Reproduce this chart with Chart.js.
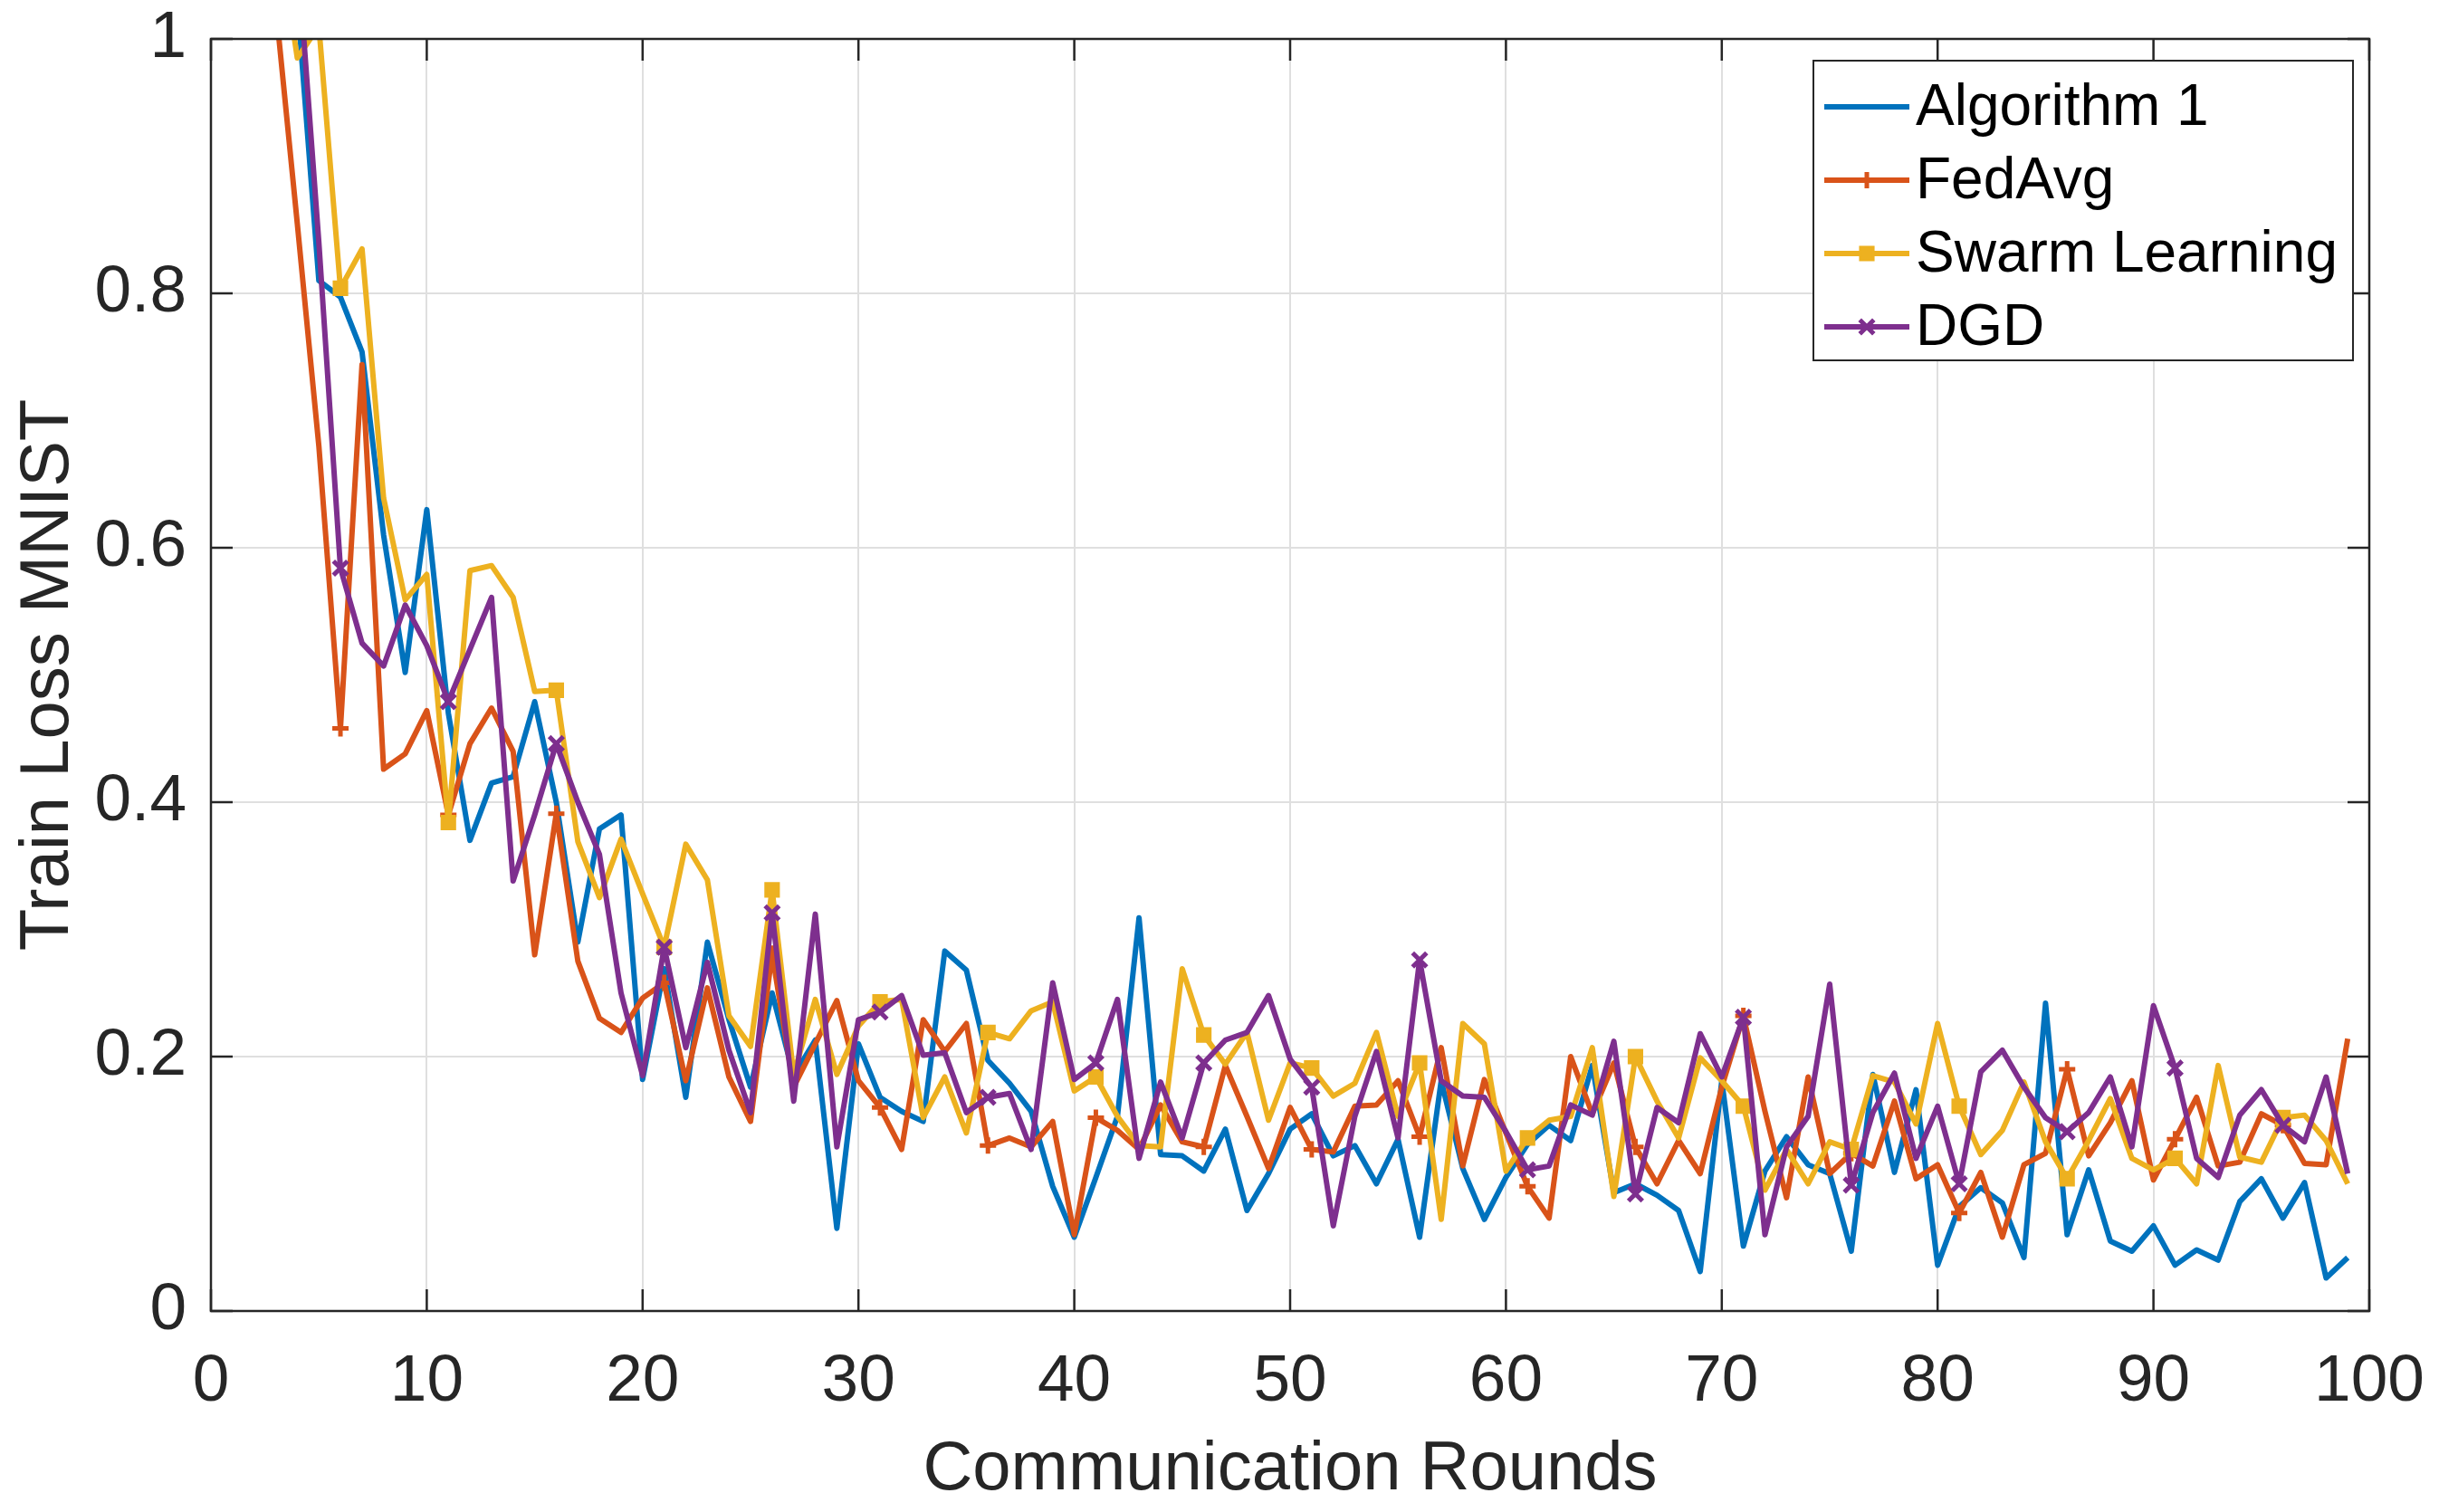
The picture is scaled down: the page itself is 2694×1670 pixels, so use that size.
<!DOCTYPE html>
<html>
<head>
<meta charset="utf-8">
<title>Train Loss MNIST</title>
<script src="https://cdn.jsdelivr.net/npm/chart.js@4.4.1/dist/chart.umd.min.js"></script>
<style>
  html, body { margin: 0; padding: 0; background: #fff; overflow: hidden; }
  #wrap { width: 2694px; height: 1670px; position: relative; }
  #wrap canvas { display: block; }
</style>
</head>
<body>
<div id="wrap"><canvas id="lossChart"></canvas></div>
<script>
// communication rounds (x) and the four loss curves
const rounds = [
  1, 2, 3, 4, 5, 6, 7, 8, 9, 10, 11, 12, 13, 14, 15, 16, 17, 18, 19, 20,
  21, 22, 23, 24, 25, 26, 27, 28, 29, 30, 31, 32, 33, 34, 35, 36, 37, 38, 39, 40,
  41, 42, 43, 44, 45, 46, 47, 48, 49, 50, 51, 52, 53, 54, 55, 56, 57, 58, 59, 60,
  61, 62, 63, 64, 65, 66, 67, 68, 69, 70, 71, 72, 73, 74, 75, 76, 77, 78, 79, 80,
  81, 82, 83, 84, 85, 86, 87, 88, 89, 90, 91, 92, 93, 94, 95, 96, 97, 98, 99
];

const algorithm1 = [
  1.6, 1.4, 1.2, 1.03, 0.81, 0.797, 0.754, 0.61, 0.502, 0.63,
  0.47, 0.37, 0.415, 0.42, 0.479, 0.40, 0.29, 0.379, 0.39, 0.182,
  0.269, 0.168, 0.29, 0.229, 0.176, 0.25, 0.185, 0.213, 0.065, 0.21,
  0.168, 0.157, 0.149, 0.283, 0.268, 0.197, 0.179, 0.157, 0.098, 0.058,
  0.105, 0.153, 0.309, 0.123, 0.122, 0.11, 0.143, 0.079, 0.108, 0.143,
  0.155, 0.122, 0.13, 0.1, 0.135, 0.058, 0.181, 0.112, 0.072, 0.105,
  0.131, 0.146, 0.134, 0.193, 0.093, 0.1, 0.091, 0.079, 0.031, 0.181,
  0.051, 0.11, 0.137, 0.115, 0.108, 0.047, 0.186, 0.109, 0.174, 0.036,
  0.082, 0.097, 0.085, 0.042, 0.242, 0.06, 0.111, 0.055, 0.047, 0.067,
  0.036, 0.048, 0.04, 0.086, 0.104, 0.073, 0.101, 0.026, 0.042
];

const fedAvg = [
  1.4, 1.2, 1.026, 0.855, 0.68, 0.458, 0.744, 0.426, 0.438, 0.472,
  0.39, 0.446, 0.474, 0.44, 0.28, 0.391, 0.275, 0.23, 0.219, 0.246,
  0.258, 0.181, 0.254, 0.184, 0.149, 0.281, 0.176, 0.21, 0.244, 0.181,
  0.16, 0.127, 0.229, 0.204, 0.226, 0.13, 0.136, 0.129, 0.149, 0.06,
  0.152, 0.142, 0.127, 0.162, 0.133, 0.129, 0.193, 0.153, 0.112, 0.16,
  0.127, 0.125, 0.161, 0.162, 0.181, 0.137, 0.207, 0.114, 0.182, 0.14,
  0.098, 0.073, 0.2, 0.155, 0.195, 0.129, 0.1, 0.134, 0.108, 0.176,
  0.232, 0.157, 0.089, 0.184, 0.108, 0.124, 0.114, 0.165, 0.104, 0.115,
  0.077, 0.109, 0.058, 0.115, 0.124, 0.19, 0.122, 0.148, 0.181, 0.103,
  0.135, 0.168, 0.114, 0.117, 0.155, 0.146, 0.116, 0.115, 0.214
];

const swarmLearning = [
  1.5, 1.3, 1.1, 0.985, 1.01, 0.804, 0.835, 0.639, 0.559, 0.579,
  0.384, 0.582, 0.586, 0.561, 0.487, 0.488, 0.369, 0.325, 0.371, 0.328,
  0.286, 0.367, 0.339, 0.232, 0.208, 0.331, 0.186, 0.245, 0.186, 0.224,
  0.243, 0.245, 0.152, 0.184, 0.14, 0.219, 0.214, 0.236, 0.243, 0.173,
  0.184, 0.153, 0.13, 0.129, 0.269, 0.217, 0.194, 0.219, 0.15, 0.195,
  0.191, 0.169, 0.179, 0.219, 0.153, 0.195, 0.072, 0.226, 0.21, 0.11,
  0.136, 0.15, 0.153, 0.207, 0.09, 0.2, 0.165, 0.136, 0.199, 0.181,
  0.161, 0.095, 0.127, 0.1, 0.133, 0.127, 0.185, 0.18, 0.147, 0.226,
  0.161, 0.123, 0.142, 0.18, 0.133, 0.104, 0.134, 0.167, 0.12, 0.111,
  0.12, 0.1, 0.193, 0.121, 0.117, 0.152, 0.154, 0.134, 0.1
];

const dgd = [
  1.6, 1.4, 1.25, 1.07, 0.84, 0.584, 0.525, 0.507, 0.555, 0.523,
  0.479, 0.52, 0.561, 0.338, 0.39, 0.446, 0.40, 0.359, 0.25, 0.185,
  0.286, 0.207, 0.274, 0.205, 0.156, 0.313, 0.165, 0.312, 0.129, 0.229,
  0.235, 0.248, 0.201, 0.203, 0.156, 0.168, 0.171, 0.127, 0.258, 0.182,
  0.195, 0.245, 0.12, 0.18, 0.136, 0.195, 0.213, 0.219, 0.248, 0.198,
  0.176, 0.067, 0.153, 0.204, 0.136, 0.276, 0.181, 0.169, 0.168, 0.141,
  0.111, 0.114, 0.162, 0.154, 0.212, 0.092, 0.16, 0.148, 0.218, 0.184,
  0.231, 0.06, 0.129, 0.153, 0.257, 0.099, 0.156, 0.187, 0.12, 0.161,
  0.1, 0.188, 0.205, 0.176, 0.152, 0.141, 0.156, 0.184, 0.129, 0.24,
  0.191, 0.12, 0.105, 0.154, 0.174, 0.146, 0.133, 0.184, 0.108
];

const seriesNames = ['Algorithm 1', 'FedAvg', 'Swarm Learning', 'DGD'];
const xTicks = [0, 10, 20, 30, 40, 50, 60, 70, 80, 90, 100];
const yTicks = [0, 0.2, 0.4, 0.6, 0.8, 1];
const xTitle = 'Communication Rounds';
const yTitle = 'Train Loss MNIST';

const FONT = "'Liberation Sans', Arial, Helvetica, sans-serif";
const AXIS_COLOR = '#262626';
const GRID_COLOR = '#dfdfdf';
const NO_COLOR = 'rgba(0,0,0,0)';

function toPoints(values) {
    return rounds.map((r, i) => ({ x: r, y: values[i] }));
}

// markers only on every fifth round, like the MATLAB MarkerIndices
function markerRadius(size) {
    return ctx => (rounds[ctx.dataIndex] % 5 === 1 ? size : 0);
}

// box with inward ticks on all four sides
const matlabFrame = {
    id: 'matlabFrame',
    afterDatasetsDraw(chart) {
        const { ctx, chartArea: a, scales } = chart;
        const tick = 24;
        ctx.save();
        ctx.strokeStyle = AXIS_COLOR;
        ctx.lineWidth = 2.5;
        ctx.beginPath();
        xTicks.forEach(v => {
            const px = scales.x.getPixelForValue(v);
            ctx.moveTo(px, a.bottom);
            ctx.lineTo(px, a.bottom - tick);
            ctx.moveTo(px, a.top);
            ctx.lineTo(px, a.top + tick);
        });
        yTicks.forEach(v => {
            const py = scales.y.getPixelForValue(v);
            ctx.moveTo(a.left, py);
            ctx.lineTo(a.left + tick, py);
            ctx.moveTo(a.right, py);
            ctx.lineTo(a.right - tick, py);
        });
        ctx.stroke();
        ctx.strokeRect(a.left, a.top, a.right - a.left, a.bottom - a.top);
        ctx.restore();
    }
};

// legend box inside the axes, top right
const insideLegend = {
    id: 'insideLegend',
    afterDatasetsDraw(chart) {
        const { ctx, chartArea: a } = chart;
        const w = 596, h = 331;
        const left = a.right - 18 - w;
        const top = a.top + 24;
        ctx.save();
        ctx.fillStyle = '#ffffff';
        ctx.fillRect(left, top, w, h);
        ctx.strokeStyle = AXIS_COLOR;
        ctx.lineWidth = 2;
        ctx.strokeRect(left, top, w, h);

        chart.data.datasets.forEach((ds, i) => {
            const cy = top + 51 + i * 81;
            const x0 = left + 12, x1 = left + 106;
            ctx.strokeStyle = ds.borderColor;
            ctx.lineWidth = ds.borderWidth;
            ctx.beginPath();
            ctx.moveTo(x0, cy);
            ctx.lineTo(x1, cy);
            ctx.stroke();
            if (ds.pointStyle && ds.legendRadius) {
                ctx.fillStyle = ds.pointBackgroundColor;
                ctx.strokeStyle = ds.pointBorderColor;
                ctx.lineWidth = ds.pointBorderWidth;
                Chart.helpers.drawPoint(ctx, {
                    pointStyle: ds.pointStyle,
                    radius: ds.legendRadius,
                    borderWidth: ds.pointBorderWidth,
                    rotation: 0
                }, (x0 + x1) / 2, cy);
            }
            ctx.fillStyle = '#000000';
            ctx.font = '64px ' + FONT;
            ctx.textAlign = 'left';
            ctx.textBaseline = 'middle';
            ctx.fillText(ds.label, left + 113, cy + 2);
        });
        ctx.restore();
    }
};

const ctx = document.getElementById('lossChart').getContext('2d');

new Chart(ctx, {
    type: 'line',
    data: {
        datasets: [
            {
                label: seriesNames[0],
                data: toPoints(algorithm1),
                borderColor: '#0072BD',
                borderWidth: 6,
                pointRadius: 0,
                order: 4,
                clip: 0
            },
            {
                label: seriesNames[1],
                data: toPoints(fedAvg),
                borderColor: '#D95319',
                borderWidth: 6,
                pointStyle: 'cross',
                pointRadius: markerRadius(9),
                legendRadius: 9,
                pointBorderWidth: 5,
                pointBorderColor: '#D95319',
                pointBackgroundColor: '#D95319',
                order: 3,
                clip: 0
            },
            {
                label: seriesNames[2],
                data: toPoints(swarmLearning),
                borderColor: '#EDB120',
                borderWidth: 6,
                pointStyle: 'rect',
                pointRadius: markerRadius(10),
                legendRadius: 10,
                pointBorderWidth: 3,
                pointBorderColor: '#EDB120',
                pointBackgroundColor: '#EDB120',
                order: 2,
                clip: 0
            },
            {
                label: seriesNames[3],
                data: toPoints(dgd),
                borderColor: '#7E2F8E',
                borderWidth: 6,
                pointStyle: 'crossRot',
                pointRadius: markerRadius(11),
                legendRadius: 11,
                pointBorderWidth: 5,
                pointBorderColor: '#7E2F8E',
                pointBackgroundColor: '#7E2F8E',
                order: 1,
                clip: 0
            }
        ]
    },
    options: {
        responsive: true,
        maintainAspectRatio: false,
        devicePixelRatio: 1,
        animation: false,
        events: [],
        layout: {
            padding: { top: 43, right: 77, bottom: 0, left: 0 }
        },
        elements: {
            line: { tension: 0, borderJoinStyle: 'round', borderCapStyle: 'butt' }
        },
        plugins: {
            legend: { display: false },
            tooltip: { enabled: false }
        },
        scales: {
            x: {
                type: 'linear',
                min: 0,
                max: 100,
                afterBuildTicks: scale => {
                    scale.ticks = xTicks.map(v => ({ value: v }));
                },
                afterFit: scale => {
                    scale.height = 222;
                },
                ticks: {
                    callback: v => String(v),
                    color: AXIS_COLOR,
                    padding: 0,
                    maxRotation: 0,
                    font: { family: FONT, size: 73 }
                },
                grid: { color: GRID_COLOR, lineWidth: 2, drawTicks: true, tickLength: 35, tickColor: NO_COLOR },
                border: { display: false },
                title: {
                    display: true,
                    text: xTitle,
                    color: AXIS_COLOR,
                    padding: { top: 0, bottom: 0 },
                    font: { family: FONT, size: 76 }
                }
            },
            y: {
                type: 'linear',
                min: 0,
                max: 1,
                afterBuildTicks: scale => {
                    scale.ticks = yTicks.map(v => ({ value: v }));
                },
                afterFit: scale => {
                    scale.width = 233;
                },
                ticks: {
                    callback: v => String(v),
                    color: AXIS_COLOR,
                    padding: 0,
                    font: { family: FONT, size: 73, lineHeight: 1 }
                },
                grid: { color: GRID_COLOR, lineWidth: 2, drawTicks: true, tickLength: 27, tickColor: NO_COLOR },
                border: { display: false },
                title: {
                    display: true,
                    text: yTitle,
                    color: AXIS_COLOR,
                    padding: { top: 8, bottom: 0 },
                    font: { family: FONT, size: 76 }
                }
            }
        }
    },
    plugins: [matlabFrame, insideLegend]
});
</script>
</body>
</html>
